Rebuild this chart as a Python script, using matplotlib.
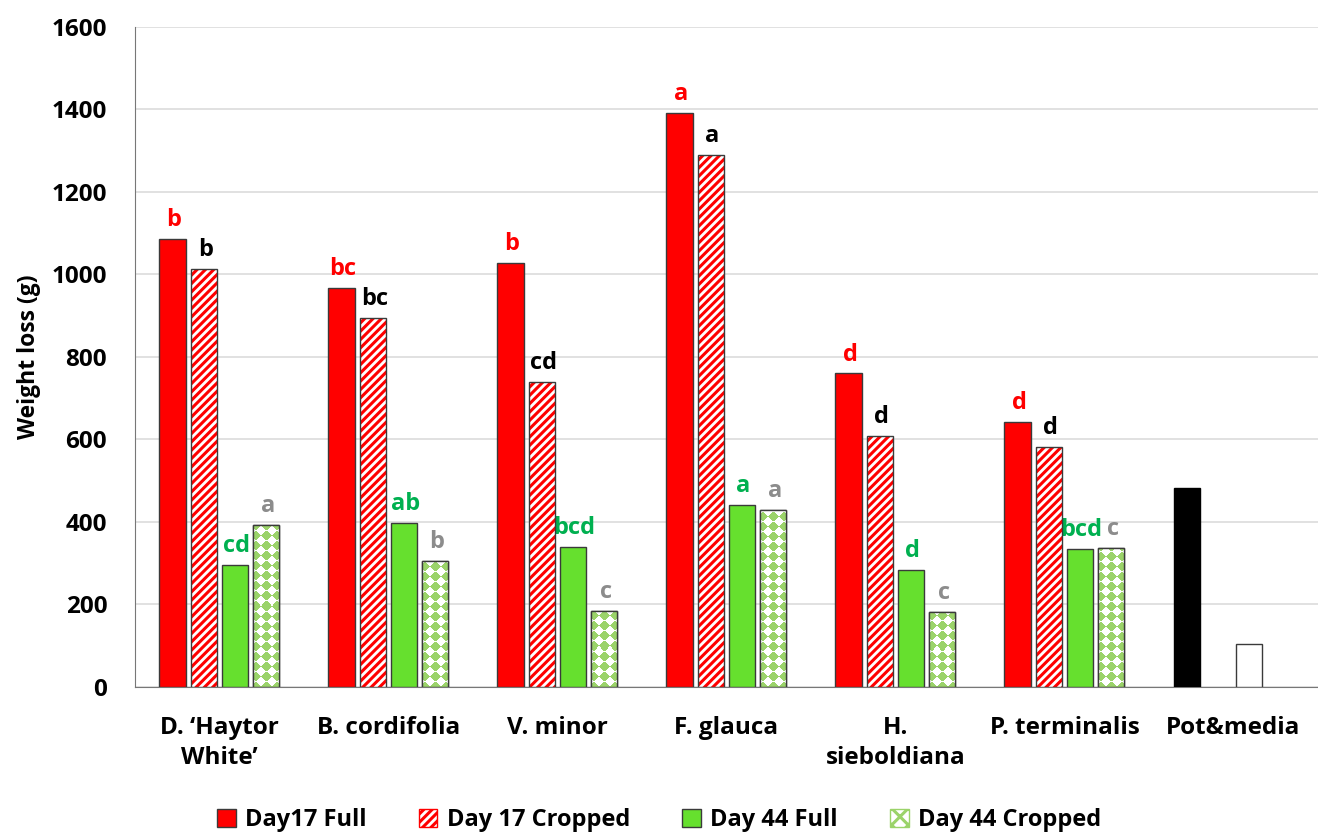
import numpy as np
import matplotlib.pyplot as plt
from matplotlib.patches import Patch

plt.rcParams['font.family'] = ['Open Sans', 'DejaVu Sans']
plt.rcParams['hatch.linewidth'] = 2.2

# data
groups = ["D. \u2018Haytor\nWhite\u2019", "B. cordifolia", "V. minor", "F. glauca",
          "H.\nsieboldiana", "P. terminalis"]
day17_full = [1086, 967, 1028, 1392, 760, 642]
day17_crop = [1013, 895, 739, 1290, 608, 582]
day44_full = [295, 398, 340, 442, 284, 335]
day44_crop = [393, 305, 185, 428, 182, 336]
pot_label = "Pot&media"
pot_dark = 482   # black bar
pot_light = 104  # white bar

let_17f = ['b', 'bc', 'b', 'a', 'd', 'd']
let_17c = ['b', 'bc', 'cd', 'a', 'd', 'd']
let_44f = ['cd', 'ab', 'bcd', 'a', 'd', 'bcd']
let_44c = ['a', 'b', 'c', 'a', 'c', 'c']

RED = '#FF0000'
GREEN = '#66E02E'
LGREEN = '#9BD36A'
LBL_GREEN = '#00B050'
EDGE = '#3a3a3a'

fig = plt.figure(figsize=(13.18, 8.33), dpi=100)
ax = fig.add_axes([0.1024, 0.1753, 0.8976, 0.7923])

x = np.arange(len(groups))
w = 0.155
step = 0.185
offs = [-1.5 * step, -0.5 * step, 0.5 * step, 1.5 * step]

ax.set_xlim(-0.5, len(groups) + 0.5)
ax.set_ylim(0, 1600)

b1 = ax.bar(x + offs[0], day17_full, w, color=RED, edgecolor=EDGE, linewidth=1, zorder=3)
# hatched red on white, then dark outline on top
ax.bar(x + offs[1], day17_crop, w, color='white', edgecolor=RED, hatch='////', linewidth=0, zorder=3)
b2 = ax.bar(x + offs[1], day17_crop, w, fill=False, edgecolor=EDGE, linewidth=1, zorder=4)
b3 = ax.bar(x + offs[2], day44_full, w, color=GREEN, edgecolor=EDGE, linewidth=1, zorder=3)
b4 = ax.bar(x + offs[3], day44_crop, w, color='white', edgecolor=EDGE, linewidth=1, zorder=3)

# diamond checker fill for the day 44 cropped bars (texture in pixel units)
px_per_y = 0.7923 * 833 / 1600
px_per_x = 0.8976 * 1318 / (len(groups) + 1)
green_rgb = np.array([0x9B, 0xD3, 0x6A]) / 255.0
for r in b4:
    nx = int(round(r.get_width() * px_per_x))
    ny = max(int(round(r.get_height() * px_per_y)), 1)
    yy, xx = np.mgrid[0:ny, 0:nx]
    s = 10.0
    u = np.floor((xx + yy + 2) / s)
    v = np.floor((xx - yy + 2) / s)
    mask = ((u + v) % 2 == 0)
    img = np.ones((ny, nx, 3))
    img[mask] = green_rgb
    im = ax.imshow(img, extent=(r.get_x(), r.get_x() + r.get_width(), 0, r.get_height()),
                   origin='lower', aspect='auto', interpolation='nearest', zorder=3.5)
    im.set_clip_path(r)
ax.bar(x + offs[3], day44_crop, w, fill=False, edgecolor=EDGE, linewidth=1, zorder=4)

# pot & media control
xp = len(groups)
ax.bar(xp + offs[0], pot_dark, w, color='black', edgecolor='black', zorder=3)
ax.bar(xp + offs[2], pot_light, w, color='white', edgecolor=EDGE, linewidth=1, zorder=3)

def put_letters(bars, letters, col):
    for r, t in zip(bars, letters):
        ax.annotate(t, (r.get_x() + r.get_width() / 2, r.get_height()),
                    xytext=(1, 5), textcoords='offset points', ha='center', va='bottom',
                    fontsize=17, fontweight='bold', color=col)

put_letters(b1, let_17f, RED)
put_letters(b2, let_17c, 'black')
put_letters(b3, let_44f, LBL_GREEN)
put_letters(b4, let_44c, '#8c8c8c')

ax.set_xlim(-0.5, len(groups) + 0.5)
ax.set_ylim(0, 1600)
ax.set_yticks(np.arange(0, 1601, 200))
ax.set_xticks(list(x) + [xp])
ax.set_xticklabels(groups + [pot_label], fontsize=17.5, fontweight='bold', linespacing=1.35)
ax.tick_params(axis='x', length=0, pad=21)
ax.tick_params(axis='y', length=0, pad=20)
for t in ax.get_yticklabels():
    t.set_fontsize(17.5)
    t.set_fontweight('bold')
ax.set_ylabel('Weight loss (g)', fontsize=16.5, fontweight='bold', labelpad=8)

ax.grid(axis='y', color='#dcdcdc', linewidth=1.2, zorder=0)
ax.set_axisbelow(True)
for s in ['top', 'right']:
    ax.spines[s].set_visible(False)
ax.spines['left'].set_color('#777777')
ax.spines['bottom'].set_color('#777777')

handles = [
    Patch(facecolor=RED, edgecolor=EDGE, label='Day17 Full'),
    Patch(facecolor='white', edgecolor=RED, hatch='////', label='Day 17 Cropped'),
    Patch(facecolor=GREEN, edgecolor=EDGE, label='Day 44 Full'),
    Patch(facecolor='white', edgecolor=LGREEN, hatch='xx', label='Day 44 Cropped'),
]
fig.legend(handles=handles, loc='lower center', bbox_to_anchor=(0.5, -0.024), ncol=4,
           frameon=False, prop={'size': 17, 'weight': 'bold'}, handlelength=0.8,
           handleheight=0.8, handletextpad=0.4, columnspacing=2.2)

fig.savefig('out.png', dpi=100)
